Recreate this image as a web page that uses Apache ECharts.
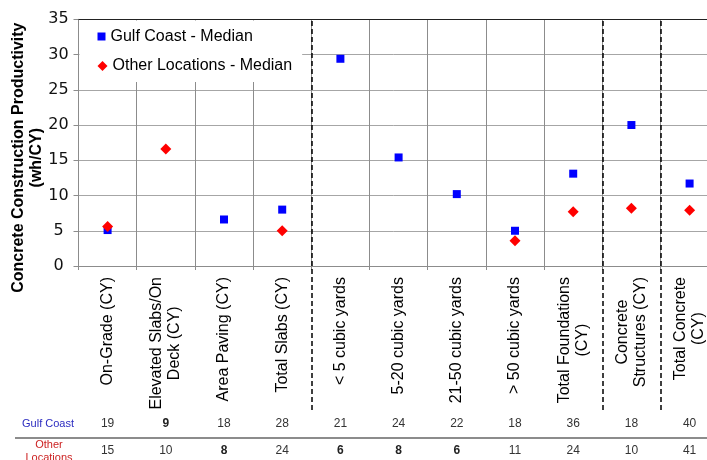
<!DOCTYPE html>
<html>
<head>
<meta charset="utf-8">
<script src="https://cdn.jsdelivr.net/npm/echarts@6/dist/echarts.min.js"></script>
<style>html,body{margin:0;padding:0;background:#fff;}#c{width:707px;height:460px;}</style>
</head>
<body>
<div id="c"></div>
<script>
var categories = [
  'On-Grade (CY)',
  'Elevated Slabs/On\nDeck (CY)',
  'Area Paving (CY)',
  'Total Slabs (CY)',
  '< 5 cubic yards',
  '5-20 cubic yards',
  '21-50 cubic yards',
  '> 50 cubic yards',
  'Total Foundations\n(CY)',
  'Concrete\nStructures (CY)',
  'Total Concrete\n(CY)'
];
var gulfMedian  = [5.1, null, 6.6, 8.0, 29.4, 15.4, 10.2, 5.0, 13.1, 20.0, 11.7];
var otherMedian = [5.6, 16.6, null, 5.0, null, null, null, 3.6, 7.7, 8.2, 7.9];
var gulfCount  = [19, 9, 18, 28, 21, 24, 22, 18, 36, 18, 40];
var otherCount = [15, 10, 8, 24, 6, 8, 6, 11, 24, 10, 41];
var groupBreaks = [4, 9, 10];
var yTicks = { min: 0, max: 35, interval: 5 };

var gulfName = 'Gulf Coast - Median';
var otherName = 'Other Locations - Median';

var chart = echarts.init(document.getElementById('c'), null, { renderer: 'canvas' });

function countFormatter(counts, medians) {
  return function (v, i) {
    return medians[i] == null ? '{b|' + counts[i] + '}' : '{n|' + counts[i] + '}';
  };
}
var countRich = {
  n: { fontFamily: 'Liberation Sans', fontSize: 12, color: '#333' },
  b: { fontFamily: 'Liberation Sans', fontSize: 12, fontWeight: 'bold', color: '#222' }
};

var option = {
  animation: false,
  backgroundColor: '#fff',
  grid: [
    { left: 78.5, right: -11.7, top: 19.3, bottom: 194, outerBoundsMode: 'none', containLabel: false },
    { left: 78.5, right: -11.7, top: 19.3, bottom: 50, outerBoundsMode: 'none', containLabel: false }
  ],
  legend: [
    {
      data: [{ name: gulfName, icon: 'rect' }],
      left: 79.5, top: 20.5, orient: 'vertical',
      backgroundColor: '#fff',
      padding: [8, 50, 7, 18],
      itemWidth: 8, itemHeight: 8,
      textStyle: { fontFamily: 'Liberation Sans', fontSize: 16, color: '#000' },
      selectedMode: false
    },
    {
      data: [{ name: otherName, icon: 'diamond' }],
      left: 79.5, top: 51, orient: 'vertical',
      backgroundColor: '#fff',
      padding: [7, 10, 8, 18],
      itemWidth: 10, itemHeight: 10,
      textStyle: { fontFamily: 'Liberation Sans', fontSize: 16, color: '#000' },
      selectedMode: false
    }
  ],
  xAxis: [
    {
      gridIndex: 0, type: 'category', data: categories, position: 'bottom',
      axisLine: { lineStyle: { color: '#8c8c8c', width: 1 } },
      axisTick: { show: true, length: 4, lineStyle: { color: '#8c8c8c' } },
      axisLabel: {
        interval: 0, rotate: 90, margin: 11, color: '#000',
        formatter: function (v) {
          return v.split('\n').map(function (s) { return '{c|' + s + '}'; }).join('\n');
        },
        rich: { c: { fontFamily: 'Liberation Sans', fontSize: 16, lineHeight: 18, color: '#000', align: 'center' } }
      },
      splitLine: { show: true, interval: 0, lineStyle: { color: '#8c8c8c', width: 1 } }
    },
    {
      gridIndex: 0, type: 'category', data: categories, position: 'top',
      axisLine: { show: true, lineStyle: { color: '#222', width: 1.2 } },
      axisTick: { show: false }, axisLabel: { show: false }, splitLine: { show: false }
    },
    {
      gridIndex: 0, type: 'category', data: categories, position: 'bottom', offset: 152,
      axisLine: { show: false }, axisTick: { show: false }, splitLine: { show: false },
      axisLabel: { interval: 0, margin: 0, formatter: countFormatter(gulfCount, gulfMedian), rich: countRich }
    },
    {
      gridIndex: 0, type: 'category', data: categories, position: 'bottom', offset: 179,
      axisLine: { show: false }, axisTick: { show: false }, splitLine: { show: false },
      axisLabel: { interval: 0, margin: 0, formatter: countFormatter(otherCount, otherMedian), rich: countRich }
    },
    {
      gridIndex: 1, type: 'value', min: 0, max: categories.length, show: false
    }
  ],
  yAxis: [
    {
      gridIndex: 0, type: 'value', min: yTicks.min, max: yTicks.max, interval: yTicks.interval,
      axisLine: { show: true, lineStyle: { color: '#8c8c8c', width: 1 } },
      axisTick: { show: true, length: 5, lineStyle: { color: '#8c8c8c' } },
      axisLabel: { margin: 20, align: 'center', fontFamily: 'DejaVu Sans', fontSize: 16, color: '#111' },
      splitLine: { show: true, lineStyle: { color: '#a6a6a6', width: 1 } },
      name: 'Concrete Construction Productivity\n(wh/CY)',
      nameLocation: 'middle', nameGap: 33, nameRotate: 90, nameMoveOverlap: false,
      nameTextStyle: {
        fontFamily: 'Liberation Sans', fontSize: 16, fontWeight: 'bold', color: '#000',
        lineHeight: 18, padding: [0, 30, 0, 0]
      }
    },
    { gridIndex: 1, type: 'value', min: 0, max: 1, show: false }
  ],
  series: [
    {
      name: gulfName, type: 'scatter', xAxisIndex: 0, yAxisIndex: 0,
      symbol: 'rect', symbolSize: 8, itemStyle: { color: '#0000ff', opacity: 1 },
      data: gulfMedian, z: 3
    },
    {
      name: otherName, type: 'scatter', xAxisIndex: 0, yAxisIndex: 0,
      symbol: 'diamond', symbolSize: 11, itemStyle: { color: '#ff0000', opacity: 1 },
      data: otherMedian, z: 4
    },
    {
      name: 'breaks', type: 'scatter', xAxisIndex: 4, yAxisIndex: 1,
      data: [], silent: true,
      markLine: {
        silent: true, symbol: ['none', 'none'], animation: false,
        label: { show: false },
        lineStyle: { color: '#000', type: [5, 3], width: 1.5 },
        data: groupBreaks.map(function (b) { return { xAxis: b }; })
      }
    }
  ],
  graphic: [
    {
      type: 'line', shape: { x1: 15, y1: 438, x2: 707, y2: 438 },
      style: { stroke: '#8c8c8c', lineWidth: 2 }, silent: true
    },
    {
      type: 'text', x: 48, y: 424,
      style: { text: 'Gulf Coast', fontFamily: 'Liberation Sans', fontSize: 11, fill: '#2b2bc0', align: 'center', verticalAlign: 'middle' }
    },
    {
      type: 'text', x: 49, y: 451,
      style: { text: 'Other\nLocations', fontFamily: 'Liberation Sans', fontSize: 11, lineHeight: 13, fill: '#cc2222', align: 'center', verticalAlign: 'middle' }
    }
  ]
};
chart.setOption(option);
</script>
</body>
</html>
